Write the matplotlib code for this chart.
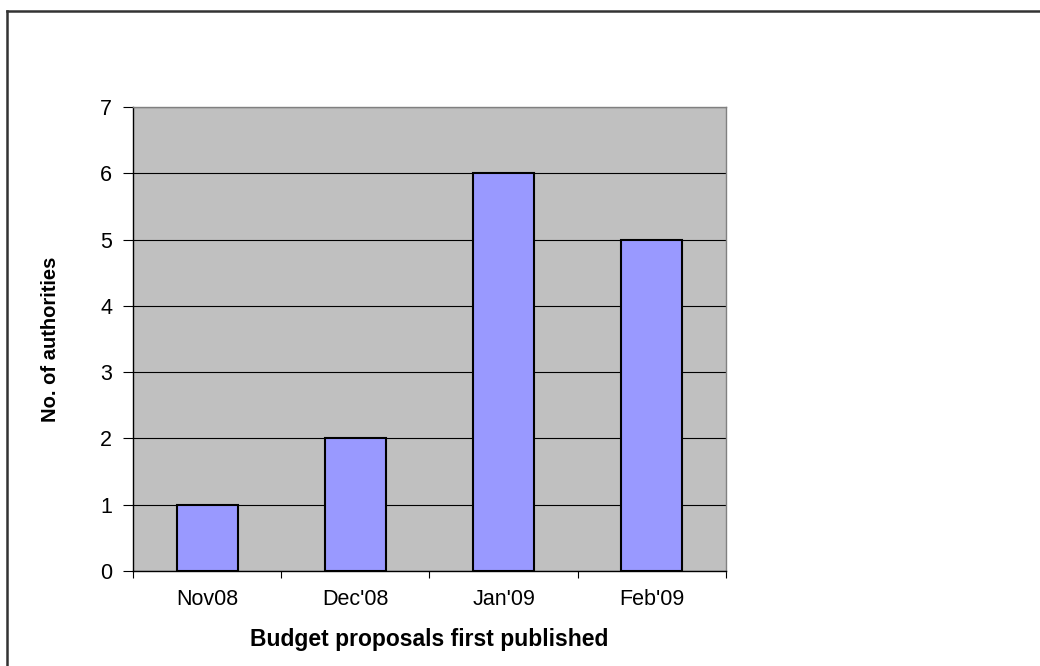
import numpy as np
import matplotlib
matplotlib.use("Agg")
import matplotlib.pyplot as plt
from matplotlib.lines import Line2D

plt.rcParams['font.family'] = ['Liberation Sans', 'DejaVu Sans']

months = ["Nov08", "Dec'08", "Jan'09", "Feb'09"]
authorities = [1, 2, 6, 5]
y_ticks = [0, 1, 2, 3, 4, 5, 6, 7]

BAR_COLOR = "#9999FF"
BG_COLOR = "#C0C0C0"

fig = plt.figure(figsize=(10.4, 6.66), dpi=100)
ax = fig.add_axes([0.1279, 0.1426, 0.5701, 0.6967])
ax.set_facecolor(BG_COLOR)

x = np.arange(len(months))
ax.bar(x, authorities, width=0.41, color=BAR_COLOR, edgecolor="black",
       linewidth=1.5, zorder=3)

ax.set_xlim(-0.5, len(months) - 0.5)
ax.set_ylim(0, 7)
ax.set_yticks(y_ticks)
ax.yaxis.grid(True, color="black", linewidth=0.8, zorder=1)
ax.set_axisbelow(True)

# boundaries get ticks, centres get labels
ax.set_xticks(np.arange(len(months) + 1) - 0.5)
ax.set_xticklabels([])
ax.set_xticks(x, minor=True)
ax.set_xticklabels(months, minor=True)
ax.tick_params(axis="x", which="major", length=5, width=0.8, color="black")
ax.tick_params(axis="x", which="minor", length=0, pad=13, labelsize=15.5)
ax.tick_params(axis="y", length=7, width=0.8, pad=8, labelsize=15.5)

for side in ["left", "bottom"]:
    ax.spines[side].set_color("black")
    ax.spines[side].set_linewidth(1.0)
for side in ["top", "right"]:
    ax.spines[side].set_color("#808080")
    ax.spines[side].set_linewidth(1.0)

ax.set_xlabel("Budget proposals first published", fontsize=16.5,
              fontweight="bold", labelpad=13)
ax.set_ylabel("No. of authorities", fontsize=14.5, fontweight="heavy",
              labelpad=29)

# outer chart border (top and left visible)
fig.add_artist(Line2D([7 / 1040, 1.0], [1 - 11 / 666, 1 - 11 / 666],
                      color="#333333", linewidth=1.8))
fig.add_artist(Line2D([7 / 1040, 7 / 1040], [0.0, 1 - 11 / 666],
                      color="#333333", linewidth=1.8))

fig.savefig("out.png", dpi=100)
